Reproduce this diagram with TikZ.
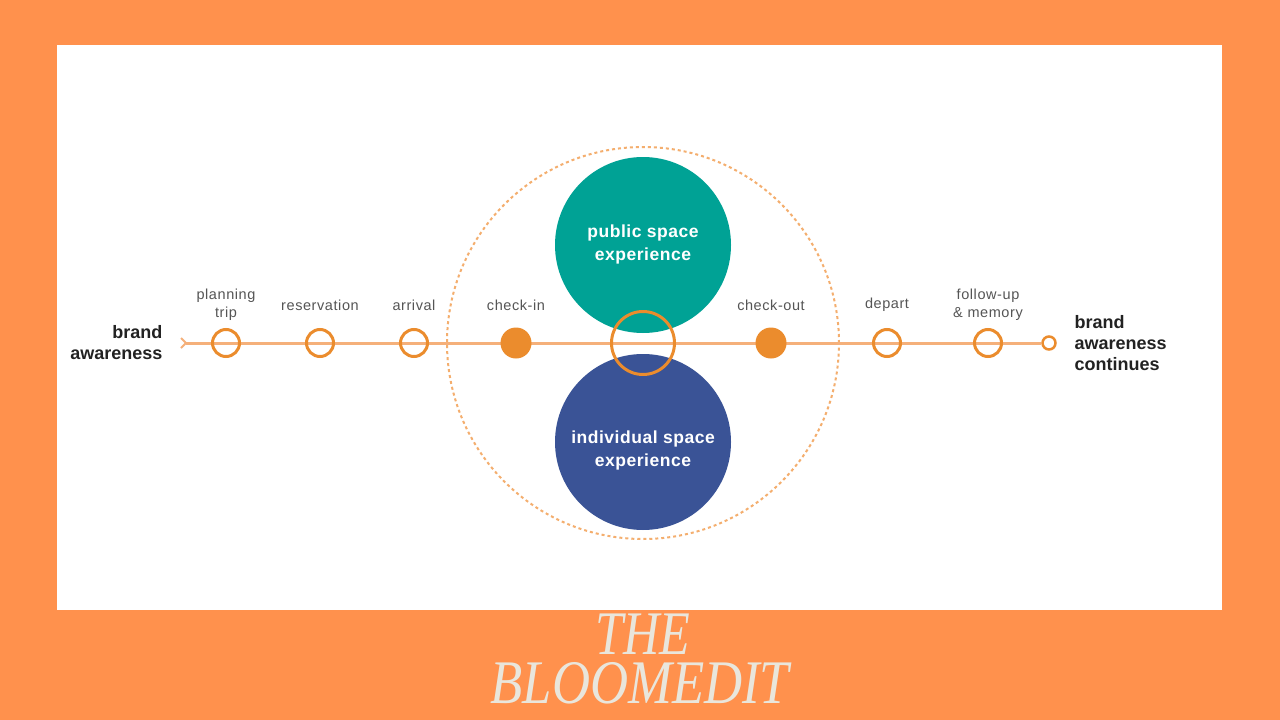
\documentclass[tikz,border=0pt]{standalone}
\usepackage{fontspec}
\usepackage{graphicx}
\setmainfont{Liberation Sans}
\newfontfamily\logofont{Liberation Serif}
\usetikzlibrary{arrows.meta}
\definecolor{bgorange}{HTML}{FF914D}
\definecolor{ringorange}{HTML}{EB8C2D}
\definecolor{lineorange}{HTML}{F5B07A}
\definecolor{dashorange}{HTML}{F4AE6E}
\definecolor{pubteal}{HTML}{00A295}
\definecolor{indblue}{HTML}{3A5396}
\definecolor{labelgray}{HTML}{555555}
\definecolor{headdark}{HTML}{222222}
\definecolor{logocream}{HTML}{E9E6DC}
\tikzset{
  ringnode/.style={circle, draw=ringorange, line width=3pt, minimum size=27pt, inner sep=0pt},
  dotnode/.style={circle, fill=ringorange, minimum size=31pt, inner sep=0pt},
  bigring/.style={circle, draw=ringorange, line width=3pt, minimum size=63pt, inner sep=0pt},
  endring/.style={circle, draw=ringorange, line width=2.5pt, minimum size=13pt, inner sep=0pt},
  stagelabel/.style={text=labelgray, font=\fontsize{14.5}{18}\selectfont\addfontfeature{LetterSpace=4}, align=center},
  headlabel/.style={text=headdark, font=\bfseries\fontsize{18}{21}\selectfont},
  bubble/.style={circle, minimum size=176pt, inner sep=0pt},
  bubbletext/.style={text=white, align=center, inner sep=0pt,
    font=\bfseries\fontsize{17.5}{23}\selectfont\addfontfeature{LetterSpace=3}},
  zone/.style={circle, draw=dashorange, line width=2pt, dash pattern=on 3pt off 3pt, minimum size=392pt, inner sep=0pt},
  timeline/.style={draw=lineorange, line width=3pt},
  logotext/.style={text=logocream, inner sep=0pt, anchor=base, font=\logofont\itshape\fontsize{62}{62}\selectfont}
}
\begin{document}
\begin{tikzpicture}[x=1pt,y=-1pt]
\useasboundingbox (0,0) rectangle (1280,720);
\fill[bgorange] (0,0) rectangle (1280,720);
\fill[white] (57,45) rectangle (1222,610);

% zone and experience bubbles
\node[zone] (zone) at (643,343) {};
\node[bubble, fill=pubteal] (public) at (643,245) {};
\node[bubble, fill=indblue] (individual) at (643,442) {};
\node[bubbletext] (publictext) at ([yshift=1pt]public.center) {public space\\experience};
\node[bubbletext] (individualtext) at ([yshift=-8pt]individual.center) {individual space\\experience};

% stage markers
\coordinate (start) at (180,343);
\node[endring] (endpt) at (1049,343) {};

% timeline
\draw[timeline, {Straight Barb[reversed, length=5pt, width=10pt, line width=2pt]}-] (start) -- (endpt.west);

\node[ringnode] (plan) at (226,343) {};
\node[ringnode] (reserv) at (320,343) {};
\node[ringnode] (arriv) at (414,343) {};
\node[dotnode] (checkin) at (516,343) {};
\node[bigring] (center) at (643,343) {};
\node[dotnode] (checkout) at (771,343) {};
\node[ringnode] (depart) at (887,343) {};
\node[ringnode] (follow) at (988,343) {};

% stage labels
\node[stagelabel] (lplan) at (226,305) {planning\\trip};
\node[stagelabel] (lreserv) at (320,305) {reservation};
\node[stagelabel] (larriv) at (414,305) {arrival};
\node[stagelabel] (lcheckin) at (516,305) {check-in};
\node[stagelabel] (lcheckout) at (771,305) {check-out};
\node[stagelabel] (ldepart) at (887,305) {depart};
\node[stagelabel] (lfollow) at (988,305) {follow-up\\\& memory};

\node[headlabel, anchor=east, align=right] (brandin) at (166,343) {brand\\awareness};
\node[headlabel, anchor=west, align=left] (brandout) at (1071,343) {brand\\awareness\\continues};

% logo
\node[logotext] (logothe) at (643,654) {\scalebox{0.81}[1]{THE}};
\node[logotext] (logobloom) at (640,703) {\scalebox{0.85}[1]{BLOOMEDIT}};
\end{tikzpicture}
\end{document}
